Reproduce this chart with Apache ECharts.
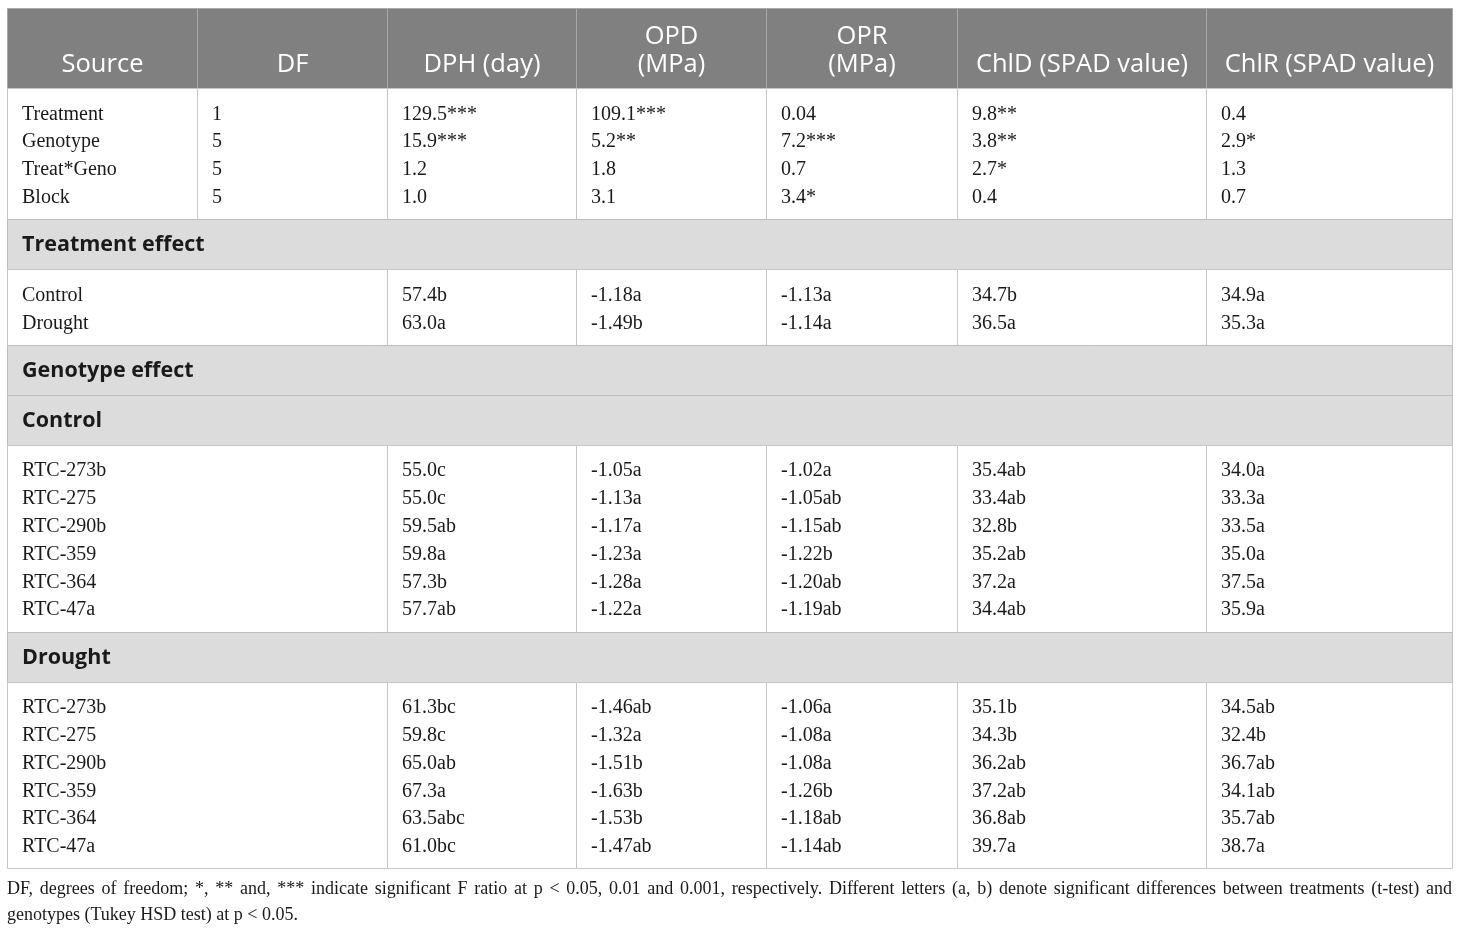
<!DOCTYPE html>
<html><head><meta charset="utf-8">
<script src="https://cdn.jsdelivr.net/npm/echarts@6/dist/echarts.min.js"></script>
<style>html,body{margin:0;padding:0;background:#fff}#c{width:1460px;height:930px}</style>
</head><body><div id="c"></div><script>
// ---------- data ----------
const columns = ['Source', 'DF', 'DPH (day)', 'OPD\n(MPa)', 'OPR\n(MPa)', 'ChlD (SPAD value)', 'ChlR (SPAD value)'];

const anovaSources = ['Treatment', 'Genotype', 'Treat*Geno', 'Block'];
const anovaDF   = ['1', '5', '5', '5'];
const anovaDPH  = ['129.5***', '15.9***', '1.2', '1.0'];
const anovaOPD  = ['109.1***', '5.2**', '1.8', '3.1'];
const anovaOPR  = ['0.04', '7.2***', '0.7', '3.4*'];
const anovaChlD = ['9.8**', '3.8**', '2.7*', '0.4'];
const anovaChlR = ['0.4', '2.9*', '1.3', '0.7'];

const treatments = ['Control', 'Drought'];
const trtDPH  = ['57.4b', '63.0a'];
const trtOPD  = ['-1.18a', '-1.49b'];
const trtOPR  = ['-1.13a', '-1.14a'];
const trtChlD = ['34.7b', '36.5a'];
const trtChlR = ['34.9a', '35.3a'];

const genotypes = ['RTC-273b', 'RTC-275', 'RTC-290b', 'RTC-359', 'RTC-364', 'RTC-47a'];
const ctlDPH  = ['55.0c', '55.0c', '59.5ab', '59.8a', '57.3b', '57.7ab'];
const ctlOPD  = ['-1.05a', '-1.13a', '-1.17a', '-1.23a', '-1.28a', '-1.22a'];
const ctlOPR  = ['-1.02a', '-1.05ab', '-1.15ab', '-1.22b', '-1.20ab', '-1.19ab'];
const ctlChlD = ['35.4ab', '33.4ab', '32.8b', '35.2ab', '37.2a', '34.4ab'];
const ctlChlR = ['34.0a', '33.3a', '33.5a', '35.0a', '37.5a', '35.9a'];

const drtDPH  = ['61.3bc', '59.8c', '65.0ab', '67.3a', '63.5abc', '61.0bc'];
const drtOPD  = ['-1.46ab', '-1.32a', '-1.51b', '-1.63b', '-1.53b', '-1.47ab'];
const drtOPR  = ['-1.06a', '-1.08a', '-1.08a', '-1.26b', '-1.18ab', '-1.14ab'];
const drtChlD = ['35.1b', '34.3b', '36.2ab', '37.2ab', '36.8ab', '39.7a'];
const drtChlR = ['34.5ab', '32.4b', '36.7ab', '34.1ab', '35.7ab', '38.7a'];

const sectionTitles = ['Treatment effect', 'Genotype effect', 'Control', 'Drought'];

const footnoteLines = [
  'DF, degrees of freedom; *, ** and, *** indicate significant F ratio at p < 0.05, 0.01 and 0.001, respectively. Different letters (a, b) denote significant differences between treatments (t-test) and',
  'genotypes (Tukey HSD test) at p < 0.05.'
];

// ---------- layout / style ----------
const SERIF = '"Liberation Serif","Times New Roman",serif';
const SANS = '"Open Sans","Noto Sans",sans-serif';
const colEdges = [0, 190, 380, 569, 759, 950, 1199, 1445];
const HEADER_H = 80, SECTION_H = 50, ROW_H = 27.8, PAD = 10, TEXT_SHIFT = 2.5;
const LINE = '#c6c6c6';
const TEXT_COLOR = '#1a1a1a';
const FOOT_FONT = '18px ' + SERIF;

const segments = [
  { type: 'header' },
  { type: 'block', merged: false, labels: anovaSources, cols: [anovaDF, anovaDPH, anovaOPD, anovaOPR, anovaChlD, anovaChlR] },
  { type: 'section', text: sectionTitles[0] },
  { type: 'block', merged: true, labels: treatments, cols: [trtDPH, trtOPD, trtOPR, trtChlD, trtChlR] },
  { type: 'section', text: sectionTitles[1] },
  { type: 'section', text: sectionTitles[2] },
  { type: 'block', merged: true, labels: genotypes, cols: [ctlDPH, ctlOPD, ctlOPR, ctlChlD, ctlChlR] },
  { type: 'section', text: sectionTitles[3] },
  { type: 'block', merged: true, labels: genotypes, cols: [drtDPH, drtOPD, drtOPR, drtChlD, drtChlR] }
];

const cells = [];
let yCur = 0;
segments.forEach(seg => {
  if (seg.type === 'header') {
    columns.forEach((t, i) => cells.push({ kind: 'header', x0: colEdges[i], x1: colEdges[i + 1], y0: yCur, y1: yCur + HEADER_H, text: t }));
    yCur += HEADER_H;
  } else if (seg.type === 'section') {
    cells.push({ kind: 'section', x0: colEdges[0], x1: colEdges[colEdges.length - 1], y0: yCur, y1: yCur + SECTION_H, text: seg.text });
    yCur += SECTION_H;
  } else {
    const h = seg.labels.length * ROW_H + 2 * PAD;
    const y0 = yCur, y1 = yCur + h;
    if (seg.merged) {
      cells.push({ kind: 'body', x0: colEdges[0], x1: colEdges[2], y0, y1, lines: seg.labels });
      seg.cols.forEach((c, i) => cells.push({ kind: 'body', x0: colEdges[i + 2], x1: colEdges[i + 3], y0, y1, lines: c }));
    } else {
      cells.push({ kind: 'body', x0: colEdges[0], x1: colEdges[1], y0, y1, lines: seg.labels });
      seg.cols.forEach((c, i) => cells.push({ kind: 'body', x0: colEdges[i + 1], x1: colEdges[i + 2], y0, y1, lines: c }));
    }
    yCur = y1;
  }
});
const TOTAL_H = yCur;

function renderItem(params, api) {
  const c = cells[api.value(4)];
  const p0 = api.coord([c.x0, c.y0]);
  const p1 = api.coord([c.x1, c.y1]);
  const x = Math.round(p0[0]) + 0.5, y = Math.round(p0[1]) + 0.5;
  const w = Math.round(p1[0]) - Math.round(p0[0]), h = Math.round(p1[1]) - Math.round(p0[1]);
  const children = [];
  if (c.kind === 'header') {
    children.push({ type: 'rect', shape: { x, y, width: w, height: h }, style: { fill: '#808080', stroke: '#a8a8a8', lineWidth: 1 } });
    children.push({ type: 'text', x: x + w / 2, y: y + h - 9.5, style: { text: c.text, fill: '#ffffff', font: '25.5px ' + SANS, align: 'center', verticalAlign: 'bottom', lineHeight: 28 } });
  } else if (c.kind === 'section') {
    children.push({ type: 'rect', shape: { x, y, width: w, height: h }, style: { fill: '#dcdcdc', stroke: '#bdbdbd', lineWidth: 1 } });
    children.push({ type: 'text', x: x + 14.5, y: y + h / 2 + 0.5, style: { text: c.text, fill: TEXT_COLOR, font: 'bold 21.5px ' + SANS, align: 'left', verticalAlign: 'middle' } });
  } else {
    children.push({ type: 'rect', shape: { x, y, width: w, height: h }, style: { fill: '#ffffff', stroke: LINE, lineWidth: 1 } });
    c.lines.forEach((t, i) => {
      const py = api.coord([c.x0, c.y0 + PAD + ROW_H * (i + 0.5) + TEXT_SHIFT])[1];
      children.push({ type: 'text', x: x + 14.5, y: py, style: { text: t, fill: TEXT_COLOR, font: '20px ' + SERIF, align: 'left', verticalAlign: 'middle' } });
    });
  }
  return { type: 'group', children };
}

// footnote: first line justified across the table width, last line left-aligned
const measureCtx = document.createElement('canvas').getContext('2d');
measureCtx.font = FOOT_FONT;
const TABLE_LEFT = 7, TABLE_W = colEdges[colEdges.length - 1];
function footnoteGraphic() {
  const els = [];
  footnoteLines.forEach((line, li) => {
    const top = 880 + li * 26;
    const words = line.split(' ');
    if (li < footnoteLines.length - 1 && words.length > 1) {
      const wordsW = words.reduce((s, wd) => s + measureCtx.measureText(wd).width, 0);
      const gap = (TABLE_W - wordsW) / (words.length - 1);
      let cx = TABLE_LEFT;
      words.forEach(wd => {
        els.push({ type: 'text', x: cx, y: top, style: { text: wd, fill: TEXT_COLOR, font: FOOT_FONT } });
        cx += measureCtx.measureText(wd).width + gap;
      });
    } else {
      els.push({ type: 'text', x: TABLE_LEFT, y: top, style: { text: line, fill: TEXT_COLOR, font: FOOT_FONT } });
    }
  });
  return els;
}

const chart = echarts.init(document.getElementById('c'), null, { renderer: 'canvas' });
chart.setOption({
  animation: false,
  backgroundColor: '#ffffff',
  grid: { left: 7, right: 8, top: 8, bottom: 930 - 8 - TOTAL_H },
  xAxis: { type: 'value', min: 0, max: colEdges[colEdges.length - 1], show: false },
  yAxis: { type: 'value', min: 0, max: TOTAL_H, inverse: true, show: false },
  series: [{
    type: 'custom',
    renderItem,
    clip: false,
    data: cells.map((c, i) => [c.x0, c.y0, c.x1, c.y1, i])
  }],
  graphic: [{ type: 'group', children: footnoteGraphic() }]
});
</script></body></html>
